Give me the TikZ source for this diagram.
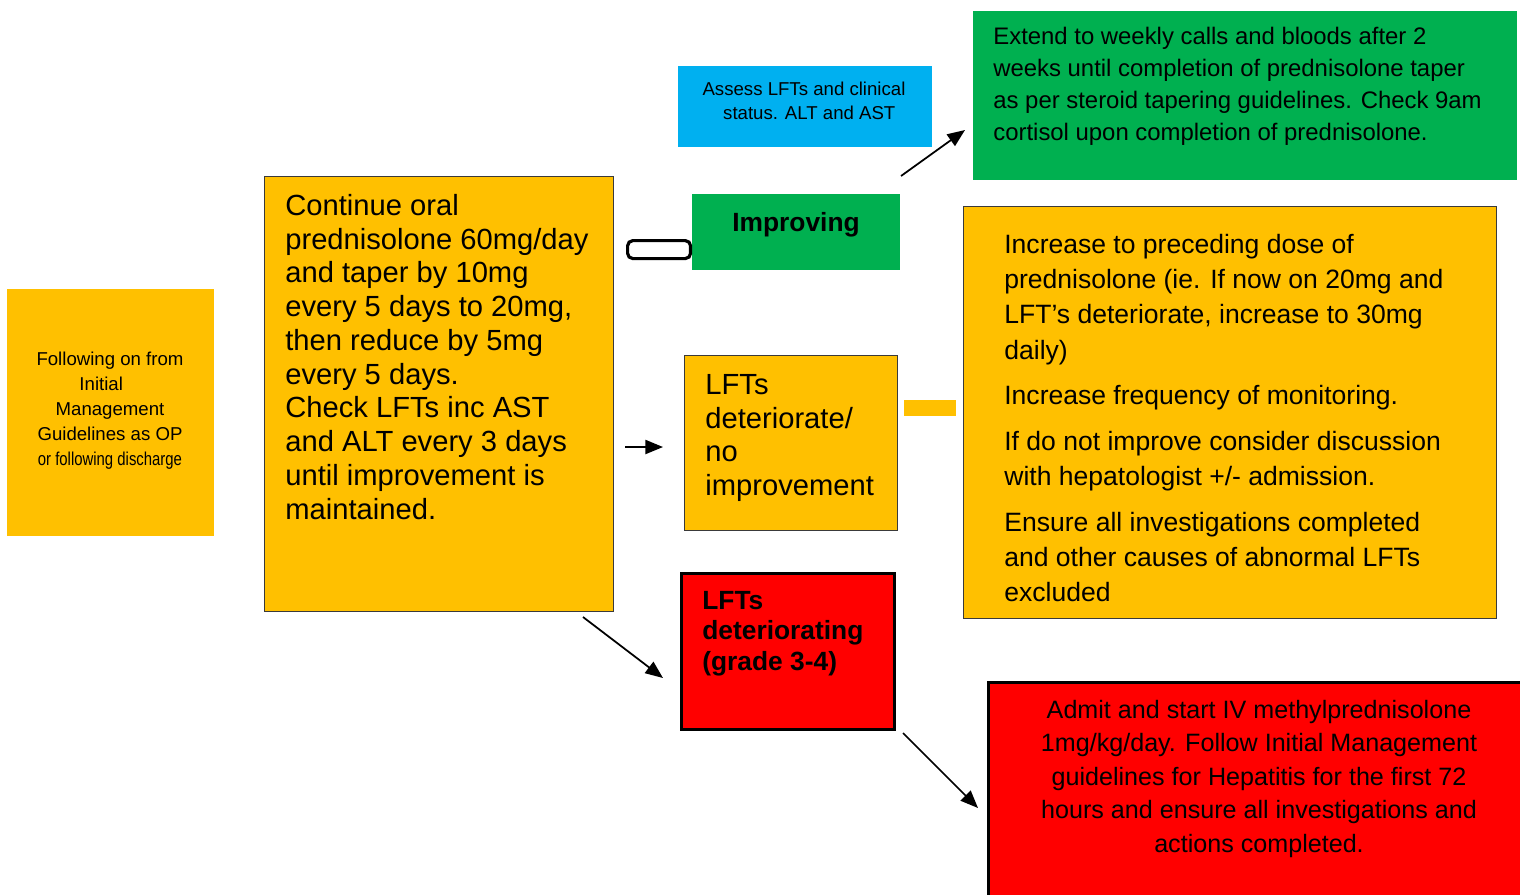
\documentclass[tikz,border=0pt]{standalone}
\usepackage{fontspec}
\setmainfont{Liberation Sans}
\usetikzlibrary{arrows.meta}
\definecolor{amber}{HTML}{FFC000}
\definecolor{okgreen}{HTML}{00B050}
\definecolor{skyblue}{HTML}{00B0F0}
\definecolor{alertred}{HTML}{FF0000}
\definecolor{edgegrey}{HTML}{3A3A3A}

\begin{document}
\begin{tikzpicture}[x=0.02cm, y=-0.02cm,
        box/.style={rectangle, inner sep=0pt, anchor=north west},
        ambox/.style={box, fill=amber, draw=edgegrey, line width=0.6pt},
        redbox/.style={box, fill=alertred, draw=black, line width=1.7pt},
        txt/.style={inner sep=0pt, align=left, anchor=north west},
        arr/.style={-{Triangle[length=10pt,width=8pt]}, line width=1pt}]
        \useasboundingbox (0,0) rectangle (1520,894);
        \clip (0,0) rectangle (1520,894);

        % boxes
        \node[box, fill=amber, minimum width=4.14cm, minimum height=4.94cm] (start) at (7,289) {};
        \node[ambox, minimum width=6.98cm, minimum height=8.7cm] (main) at (264,176) {};
        \node[box, fill=skyblue, minimum width=5.08cm, minimum height=1.62cm] (assess) at (678,66) {};
        \node[box, fill=okgreen, minimum width=4.16cm, minimum height=1.52cm] (improve) at (692,194) {};
        \node[box, fill=okgreen, minimum width=10.88cm, minimum height=3.38cm] (extend) at (973,11) {};
        \node[ambox, minimum width=4.26cm, minimum height=3.5cm] (worse) at (684,355) {};
        \node[ambox, minimum width=10.66cm, minimum height=8.24cm] (increase) at (963,206) {};
        \node[redbox, minimum width=4.26cm, minimum height=3.12cm] (severe) at (680,572) {};
        \node[redbox, minimum width=10.92cm, minimum height=4.6cm] (admit) at (987,681) {};
        \node[box, draw=black, fill=white, line width=1.8pt, rounded corners=3pt,
            minimum width=1.26cm, minimum height=0.36cm] (link) at (626,239) {};
        \node[box, fill=amber, minimum width=1.04cm, minimum height=0.32cm] (bar) at (904,400) {};

        % texts
        \node[txt, anchor=north, align=center, font=\fontsize{10.6pt}{14.2pt}\selectfont] (starttxt) at (110,352)
            {Following on from\\ \mbox{Initial\hspace{10pt}}\\ Management\\ Guidelines as OP\\
            \scalebox{0.8}[1]{or following discharge}};
        \node[txt, font=\fontsize{16.6pt}{19.2pt}\selectfont] (maintxt) at (285,194)
            {Continue oral\\ prednisolone 60mg/day\\ and taper by 10mg\\ every 5 days to 20mg,\\
            then reduce by 5mg\\ every 5 days.\\ Check LFTs inc AST\\ and ALT every 3 days\\
            until improvement is\\ maintained.};
        \node[txt, anchor=north, align=center, font=\fontsize{10.6pt}{13.6pt}\selectfont] (assesstxt) at (804,82)
            {Assess LFTs and clinical\\ \mbox{\hspace{6pt}status. ALT and AST}};
        \node[font=\fontsize{15pt}{17pt}\selectfont\bfseries] (improvetxt) at (796,225) {Improving};
        \node[txt, font=\fontsize{13.6pt}{18.1pt}\selectfont] (extendtxt) at (993,27)
            {Extend to weekly calls and bloods after 2\\ weeks until completion of prednisolone taper\\
            as per steroid tapering guidelines. Check 9am\\ cortisol upon completion of prednisolone.};
        \node[txt, font=\fontsize{16.6pt}{19.2pt}\selectfont] (worsetxt) at (705,374)
            {LFTs\\ deteriorate/\\ no\\ improvement};
        \node[txt, font=\fontsize{15.1pt}{20pt}\selectfont] (increasetxt) at (1004,234)
            {Increase to preceding dose of\\ prednisolone (ie. If now on 20mg and\\
            LFT’s deteriorate, increase to 30mg\\ daily)\\[6pt]
            Increase frequency of monitoring.\\[6pt]
            If do not improve consider discussion\\ with hepatologist +/- admission.\\[6pt]
            Ensure all investigations completed\\ and other causes of abnormal LFTs\\ excluded};
        \node[txt, font=\fontsize{15pt}{17.3pt}\selectfont\bfseries] (severetxt) at (702,591)
            {LFTs\\ deteriorating\\ (grade 3-4)};
        \node[txt, anchor=north, align=center, font=\fontsize{14.3pt}{19pt}\selectfont] (admittxt) at (1259,700)
            {Admit and start IV methylprednisolone\\ 1mg/kg/day. Follow Initial Management\\
            guidelines for Hepatitis for the first 72\\ hours and ensure all investigations and\\
            actions completed.};

        % arrows
        \coordinate (upfrom) at (901,176);
        \coordinate (upto) at (965,130);
        \coordinate (midfrom) at (625,447);
        \coordinate (midto) at (663,447);
        \coordinate (downfrom) at (583,617);
        \coordinate (downto) at (663,678);
        \coordinate (redfrom) at (903,733);
        \coordinate (redto) at (978,808);
        \draw[arr] (upfrom) -- (upto);
        \draw[arr] (midfrom) -- (midto);
        \draw[arr] (downfrom) -- (downto);
        \draw[arr] (redfrom) -- (redto);
\end{tikzpicture}
\end{document}
